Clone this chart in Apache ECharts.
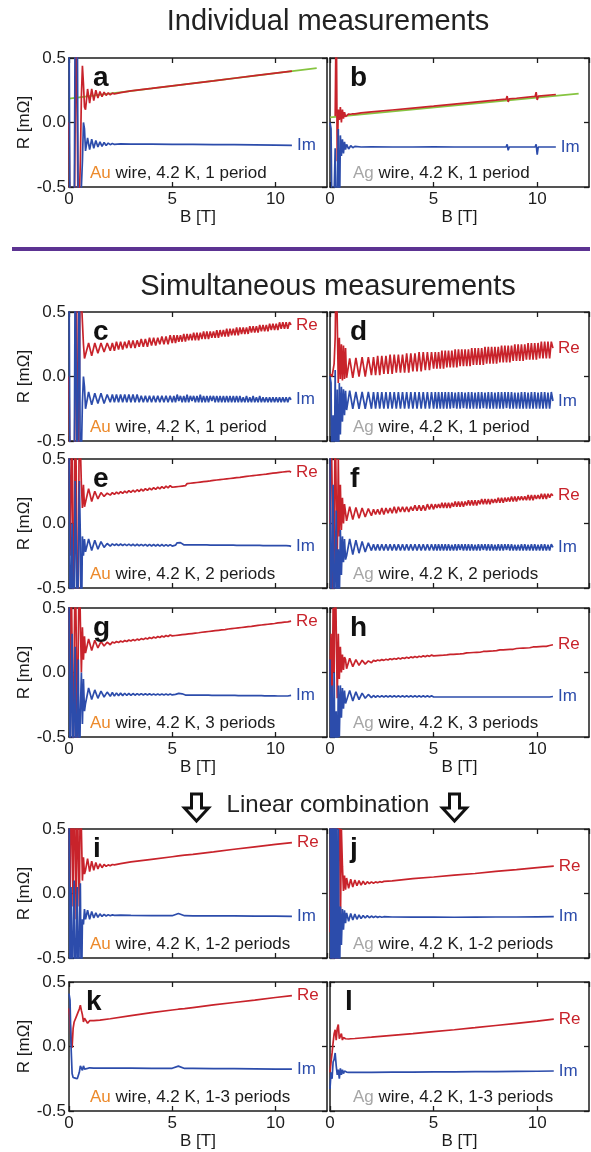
<!DOCTYPE html>
<html><head><meta charset="utf-8">
<script src="https://cdn.jsdelivr.net/npm/echarts@6/dist/echarts.min.js"></script>
<style>html,body{margin:0;padding:0;background:#fff}#chart{width:591px;height:1152px}</style>
</head><body><div id="chart"></div>
<script>
// ---------- DATA (B in T, R in mOhm) ----------
const xTicks = [0, 5, 10];
const yTicks = [-0.5, 0.0, 0.5];
const bEarly = [0, 0.05, 0.1, 0.15, 0.2, 0.25, 0.3, 0.35, 0.4, 0.45, 0.5, 0.55, 0.6, 0.65, 0.7, 0.75];
const bOsc = [0.8, 0.95, 1.1, 1.25, 1.4, 1.55, 1.7, 1.85, 2.0,
 2.1, 2.2, 2.3, 2.4, 2.5, 2.6, 2.7, 2.8, 2.9, 3.0,
 3.1, 3.2, 3.3, 3.4, 3.5, 3.6, 3.7, 3.8, 3.9, 4.0,
 4.1, 4.2, 4.3, 4.4, 4.5, 4.6, 4.7, 4.8, 4.9,
 5.0, 5.08, 5.16, 5.24, 5.32, 5.4, 5.48, 5.56, 5.64, 5.72,
 5.8, 5.88, 5.96, 6.04, 6.12, 6.2, 6.28, 6.36, 6.44, 6.52,
 6.6, 6.68, 6.76, 6.84, 6.92, 7.0, 7.08, 7.16, 7.24, 7.32,
 7.4, 7.48, 7.56, 7.64, 7.72, 7.8, 7.88, 7.96, 8.04, 8.12,
 8.2, 8.28, 8.36, 8.44, 8.52, 8.6, 8.68, 8.76, 8.84, 8.92,
 9.0, 9.08, 9.16, 9.24, 9.32, 9.4, 9.48, 9.56, 9.64, 9.72,
 9.8, 9.88, 9.96, 10.04, 10.12, 10.2, 10.28, 10.36, 10.44, 10.52,
 10.6, 10.68, 10.76];

// a : Au, individual
const aMainB = [0.8, 0.9, 1.0, 1.1, 1.2, 1.3, 1.4, 1.5, 1.6, 1.7, 1.8, 1.9, 2.0, 2.1, 2.2, 2.5, 3, 4, 5, 6, 7, 8, 9, 10, 10.8];
const aRe = [0.0, -0.9, -0.9, -0.9, -0.9, -0.9, -0.9, 0.9, 0.9, -0.9, -0.9, -0.3, 0.2, 0.44, 0.3, 0.12,
 0.10, 0.26, 0.15, 0.26, 0.17, 0.25, 0.19, 0.24, 0.20, 0.235, 0.21, 0.23, 0.215, 0.228, 0.222, 0.232, 0.245, 0.264, 0.284, 0.304, 0.323, 0.343, 0.363, 0.383, 0.398];
const aIm = [0.9, -0.9, -0.9, -0.9, -0.9, -0.9, 0.9, 0.9, 0.9, -0.9, -0.9, -0.9, -0.5, -0.3, 0.0, -0.05,
 -0.22, -0.12, -0.21, -0.13, -0.2, -0.14, -0.19, -0.15, -0.185, -0.155, -0.178, -0.16, -0.172, -0.163, -0.17, -0.165, -0.168, -0.168, -0.17, -0.17, -0.172, -0.172, -0.174, -0.176, -0.178];
const ppmsB = [0, 12.0];
const aPpms = [0.185, 0.422];

// b : Ag, individual
const bMainB = [0.8, 0.9, 1.0, 1.1, 1.2, 1.5, 2, 3, 4, 5, 6, 7, 8, 8.5, 8.55, 8.6, 8.65, 9, 9.9, 9.95, 10.0, 10.05, 10.9];
const bRe = [null, null, null, null, null, 0.05, 0.9, -0.3, 0.1, 0.02, 0.12, 0.0, 0.1, 0.03, 0.08, 0.045,
 0.06, 0.066, 0.064, 0.068, 0.067, 0.074, 0.082, 0.097, 0.112, 0.127, 0.143, 0.158, 0.173, 0.181, 0.205, 0.16, 0.183, 0.188, 0.202, 0.235, 0.175, 0.204, 0.217];
const bIm = [0.0, -0.05, -0.8, -0.9, -0.9, -0.2, -0.9, -0.6, -0.05, -0.9, -0.1, -0.26, -0.13, -0.24, -0.15, -0.21,
 -0.17, -0.205, -0.18, -0.195, -0.185, -0.19, -0.188, -0.19, -0.19, -0.188, -0.19, -0.19, -0.19, -0.19, -0.17, -0.215, -0.19, -0.19, -0.19, -0.17, -0.25, -0.19, -0.19];
const bPpms = [0.04, 0.224];

// c : Au, simultaneous, 1 period
const cRe = [0.0, -0.9, -0.9, -0.9, -0.9, -0.9, -0.9, 0.9, 0.9, -0.9, -0.9, 0.9, 0.6, 0.42, 0.25, 0.14,
 0.13, 0.26, 0.16, 0.26, 0.18, 0.26, 0.19, 0.26, 0.20,
 0.26, 0.20, 0.27, 0.21, 0.27, 0.21, 0.27, 0.22, 0.28, 0.22,
 0.28, 0.22, 0.28, 0.23, 0.29, 0.23, 0.29, 0.23, 0.30, 0.24,
 0.30, 0.24, 0.30, 0.25, 0.31, 0.25, 0.31, 0.25, 0.32,
 0.26, 0.32, 0.26, 0.32, 0.27, 0.32, 0.27, 0.33, 0.27, 0.33,
 0.28, 0.33, 0.28, 0.34, 0.28, 0.34, 0.28, 0.34, 0.29, 0.35,
 0.29, 0.35, 0.29, 0.35, 0.30, 0.35, 0.30, 0.36, 0.30, 0.36,
 0.31, 0.36, 0.31, 0.37, 0.31, 0.37, 0.32, 0.37, 0.32, 0.38,
 0.32, 0.38, 0.33, 0.38, 0.33, 0.38, 0.33, 0.39, 0.34, 0.39,
 0.34, 0.39, 0.34, 0.40, 0.35, 0.40, 0.35, 0.40, 0.35, 0.41,
 0.36, 0.41, 0.36, 0.41, 0.36, 0.42, 0.37, 0.42, 0.37, 0.42,
 0.37, 0.42, 0.40];
const cIm = [0.9, -0.9, -0.9, -0.9, -0.9, -0.9, 0.9, 0.9, -0.9, -0.9, 0.9, -0.9, -0.6, -0.2, 0.0, -0.08,
 -0.25, -0.12, -0.22, -0.13, -0.21, -0.13, -0.21, -0.14, -0.20,
 -0.14, -0.20, -0.14, -0.20, -0.14, -0.20, -0.14, -0.20, -0.14, -0.20,
 -0.14, -0.20, -0.14, -0.20, -0.15, -0.20, -0.15, -0.20, -0.15, -0.20,
 -0.15, -0.20, -0.15, -0.20, -0.15, -0.20, -0.15, -0.20, -0.15,
 -0.20, -0.15, -0.20, -0.14, -0.19, -0.15, -0.20, -0.15, -0.20, -0.14,
 -0.20, -0.15, -0.19, -0.15, -0.20, -0.15, -0.20, -0.14, -0.20, -0.15,
 -0.20, -0.15, -0.20, -0.15, -0.19, -0.15, -0.20, -0.15, -0.20, -0.15,
 -0.20, -0.15, -0.20, -0.15, -0.20, -0.15, -0.20, -0.15, -0.20, -0.15,
 -0.20, -0.15, -0.20, -0.16, -0.20, -0.15, -0.20, -0.16, -0.20, -0.15,
 -0.20, -0.16, -0.20, -0.15, -0.20, -0.16, -0.20, -0.16, -0.20, -0.16,
 -0.20, -0.16, -0.20, -0.16, -0.20, -0.16, -0.20, -0.16, -0.20, -0.16,
 -0.20, -0.16, -0.18];

// d : Ag, simultaneous, 1 period
const dRe = [0.02, 0.02, 0.0, 0.05, 0.1, 0.3, 0.9, 0.9, -0.05, 0.3, -0.02, 0.25, -0.03, 0.24, -0.02, 0.22,
 -0.01, 0.14, -0.01, 0.145, 0.0, 0.15, 0.0, 0.15, 0.01,
 0.15, 0.01, 0.16, 0.01, 0.16, 0.02, 0.16, 0.02, 0.17, 0.02,
 0.17, 0.03, 0.17, 0.03, 0.17, 0.03, 0.18, 0.03, 0.18, 0.04,
 0.18, 0.04, 0.19, 0.04, 0.19, 0.05, 0.19, 0.05, 0.19,
 0.06, 0.19, 0.06, 0.19, 0.06, 0.20, 0.06, 0.20, 0.07, 0.20,
 0.07, 0.20, 0.07, 0.21, 0.07, 0.21, 0.08, 0.21, 0.08, 0.21,
 0.08, 0.21, 0.08, 0.22, 0.09, 0.22, 0.09, 0.22, 0.09, 0.22,
 0.09, 0.23, 0.10, 0.23, 0.10, 0.23, 0.10, 0.23, 0.10, 0.23,
 0.11, 0.24, 0.11, 0.24, 0.11, 0.24, 0.11, 0.24, 0.12, 0.25,
 0.12, 0.25, 0.12, 0.25, 0.12, 0.25, 0.13, 0.26, 0.13, 0.26,
 0.13, 0.26, 0.13, 0.26, 0.14, 0.27, 0.14, 0.27, 0.14, 0.27,
 0.14, 0.27, 0.22];
const dIm = [0.0, -0.05, -0.9, -0.3, -0.9, 0.05, -0.9, -0.1, -0.9, -0.05, -0.45, -0.08, -0.35, -0.1, -0.3, -0.11,
 -0.26, -0.11, -0.25, -0.12, -0.25, -0.12, -0.25, -0.12, -0.25,
 -0.12, -0.25, -0.12, -0.25, -0.12, -0.25, -0.12, -0.25, -0.12, -0.25,
 -0.12, -0.25, -0.12, -0.25, -0.12, -0.25, -0.12, -0.25, -0.12, -0.25,
 -0.12, -0.25, -0.12, -0.25, -0.12, -0.25, -0.12, -0.25, -0.12,
 -0.25, -0.12, -0.25, -0.12, -0.25, -0.12, -0.25, -0.12, -0.25, -0.12,
 -0.25, -0.12, -0.245, -0.125, -0.25, -0.12, -0.25, -0.12, -0.245, -0.125,
 -0.25, -0.12, -0.25, -0.12, -0.25, -0.125, -0.25, -0.12, -0.25, -0.12,
 -0.245, -0.125, -0.25, -0.12, -0.25, -0.12, -0.25, -0.125, -0.25, -0.12,
 -0.25, -0.12, -0.25, -0.12, -0.245, -0.12, -0.25, -0.12, -0.25, -0.125,
 -0.25, -0.125, -0.25, -0.12, -0.25, -0.12, -0.25, -0.125, -0.25, -0.12,
 -0.25, -0.12, -0.25, -0.125, -0.25, -0.12, -0.25, -0.12, -0.25, -0.125,
 -0.25, -0.12, -0.19];

// e : Au, simultaneous, 2 periods
const eRe = [0.9, -0.25, 0.3, 0.9, -0.9, -0.2, 0.9, 0.4, -0.9, -0.5, 0.9, 0.6, 0.3, 0.12, 0.3, 0.13,
 0.14, 0.27, 0.17, 0.25, 0.19, 0.24, 0.21, 0.235, 0.22,
 0.239, 0.225, 0.243, 0.229, 0.247, 0.233, 0.251, 0.237, 0.255, 0.241,
 0.258, 0.244, 0.262, 0.248, 0.266, 0.252, 0.270, 0.256, 0.274, 0.260,
 0.278, 0.264, 0.282, 0.268, 0.286, 0.272, 0.290, 0.276, 0.294,
 0.281, 0.296, 0.284, 0.299, 0.287, 0.302, 0.290, 0.305, 0.293, 0.309,
 0.296, 0.312, 0.299, 0.315, 0.302, 0.318, 0.305, 0.321, 0.309, 0.324,
 0.312, 0.327, 0.315, 0.330, 0.318, 0.334, 0.321, 0.337, 0.324, 0.340,
 0.327, 0.343, 0.330, 0.346, 0.334, 0.349, 0.337, 0.352, 0.340, 0.355,
 0.343, 0.358, 0.346, 0.362, 0.349, 0.365, 0.352, 0.368, 0.355, 0.371,
 0.359, 0.374, 0.362, 0.377, 0.365, 0.380, 0.368, 0.383, 0.371, 0.387,
 0.374, 0.390, 0.377, 0.393, 0.380, 0.396, 0.383, 0.399, 0.387, 0.402,
 0.390, 0.405, 0.398];
const eIm = [0.9, -0.9, -0.5, 0.0, -0.9, -0.6, 0.33, -0.2, -0.9, -0.4, 0.33, -0.1, -0.9, -0.1, -0.25, -0.12,
 -0.22, -0.12, -0.21, -0.13, -0.20, -0.14, -0.185, -0.155, -0.175,
 -0.158, -0.170, -0.159, -0.171, -0.159, -0.171, -0.160, -0.172, -0.160, -0.172,
 -0.161, -0.173, -0.161, -0.173, -0.162, -0.173, -0.162, -0.174, -0.162, -0.174,
 -0.163, -0.174, -0.163, -0.175, -0.163, -0.175, -0.164, -0.175, -0.164,
 -0.175, -0.164, -0.168, -0.150, -0.152, -0.148, -0.160, -0.165, -0.176, -0.165,
 -0.176, -0.165, -0.176, -0.165, -0.176, -0.166, -0.177, -0.166, -0.177, -0.166,
 -0.177, -0.166, -0.177, -0.167, -0.178, -0.167, -0.178, -0.167, -0.178, -0.167,
 -0.178, -0.168, -0.179, -0.168, -0.179, -0.168, -0.179, -0.168, -0.179, -0.169,
 -0.180, -0.169, -0.180, -0.169, -0.180, -0.169, -0.180, -0.170, -0.181, -0.170,
 -0.181, -0.170, -0.181, -0.170, -0.181, -0.171, -0.182, -0.171, -0.182, -0.171,
 -0.182, -0.171, -0.182, -0.172, -0.183, -0.172, -0.183, -0.172, -0.183, -0.172,
 -0.183, -0.173, -0.177];

// f : Ag, simultaneous, 2 periods
const fRe = [0.0, 0.9, 0.3, -0.9, -0.2, 0.9, 0.2, -0.3, 0.5, -0.1, 0.3, -0.05, 0.2, 0.0, 0.15, 0.14,
 0.02, 0.13, 0.03, 0.125, 0.04, 0.12, 0.05, 0.115, 0.06,
 0.11, 0.07, 0.11, 0.07, 0.12, 0.07, 0.12, 0.08, 0.12, 0.08,
 0.13, 0.08, 0.13, 0.09, 0.13, 0.09, 0.13, 0.09, 0.13, 0.10,
 0.14, 0.10, 0.14, 0.10, 0.14, 0.10, 0.15, 0.11, 0.15,
 0.11, 0.15, 0.12, 0.15, 0.12, 0.16, 0.12, 0.16, 0.12, 0.16,
 0.12, 0.16, 0.13, 0.17, 0.13, 0.17, 0.13, 0.17, 0.13, 0.17,
 0.14, 0.18, 0.14, 0.18, 0.14, 0.18, 0.14, 0.18, 0.15, 0.19,
 0.15, 0.19, 0.15, 0.19, 0.15, 0.19, 0.16, 0.19, 0.16, 0.20,
 0.16, 0.20, 0.16, 0.20, 0.17, 0.20, 0.17, 0.21, 0.17, 0.21,
 0.17, 0.21, 0.18, 0.21, 0.18, 0.21, 0.18, 0.22, 0.18, 0.22,
 0.18, 0.22, 0.19, 0.22, 0.19, 0.23, 0.19, 0.23, 0.19, 0.23,
 0.20, 0.23, 0.215];
const fIm = [0.9, -0.9, -0.3, 0.3, -0.9, -0.4, 0.1, -0.9, -0.2, -0.6, -0.05, -0.4, -0.1, -0.3, -0.12, -0.28,
 -0.25, -0.12, -0.24, -0.13, -0.23, -0.14, -0.22, -0.15, -0.21,
 -0.16, -0.21, -0.16, -0.21, -0.16, -0.21, -0.16, -0.21, -0.16, -0.21,
 -0.16, -0.21, -0.16, -0.21, -0.16, -0.21, -0.16, -0.21, -0.16, -0.21,
 -0.16, -0.21, -0.16, -0.21, -0.16, -0.21, -0.16, -0.21, -0.16,
 -0.21, -0.16, -0.21, -0.16, -0.21, -0.16, -0.21, -0.16, -0.21, -0.16,
 -0.21, -0.165, -0.21, -0.16, -0.21, -0.16, -0.205, -0.16, -0.21, -0.16,
 -0.21, -0.16, -0.21, -0.16, -0.21, -0.165, -0.21, -0.16, -0.21, -0.16,
 -0.205, -0.16, -0.21, -0.16, -0.21, -0.16, -0.21, -0.165, -0.21, -0.16,
 -0.21, -0.16, -0.21, -0.16, -0.205, -0.16, -0.21, -0.16, -0.21, -0.165,
 -0.21, -0.165, -0.21, -0.16, -0.21, -0.16, -0.21, -0.165, -0.21, -0.16,
 -0.21, -0.16, -0.21, -0.165, -0.21, -0.16, -0.21, -0.16, -0.21, -0.165,
 -0.21, -0.16, -0.185];

// g : Au, simultaneous, 3 periods
const gRe = [0.9, -0.3, 0.9, 0.2, -0.9, 0.1, 0.9, 0.3, -0.6, 0.2, 0.9, 0.4, 0.0, 0.35, 0.1, 0.28,
 0.15, 0.26, 0.17, 0.25, 0.19, 0.24, 0.205, 0.235, 0.215,
 0.236, 0.228, 0.240, 0.232, 0.244, 0.236, 0.248, 0.240, 0.252, 0.244,
 0.255, 0.247, 0.259, 0.251, 0.263, 0.255, 0.267, 0.259, 0.271, 0.263,
 0.275, 0.267, 0.279, 0.271, 0.283, 0.275, 0.287, 0.279, 0.291,
 0.284, 0.293, 0.287, 0.296, 0.290, 0.299, 0.293, 0.302, 0.296, 0.306,
 0.299, 0.309, 0.302, 0.312, 0.305, 0.315, 0.308, 0.318, 0.312, 0.321,
 0.315, 0.324, 0.318, 0.327, 0.321, 0.331, 0.324, 0.334, 0.327, 0.337,
 0.330, 0.340, 0.333, 0.343, 0.337, 0.346, 0.340, 0.349, 0.343, 0.352,
 0.346, 0.355, 0.349, 0.359, 0.352, 0.362, 0.355, 0.365, 0.358, 0.368,
 0.362, 0.371, 0.365, 0.374, 0.368, 0.377, 0.371, 0.380, 0.374, 0.384,
 0.377, 0.387, 0.380, 0.390, 0.384, 0.393, 0.387, 0.396, 0.390, 0.399,
 0.393, 0.402, 0.398];
const gIm = [0.9, -0.9, -0.2, 0.3, -0.9, -0.3, 0.2, -0.9, -0.4, 0.1, -0.9, -0.3, 0.0, -0.4, -0.05, -0.3,
 -0.24, -0.12, -0.21, -0.135, -0.20, -0.145, -0.19, -0.152, -0.185,
 -0.155, -0.183, -0.158, -0.181, -0.160, -0.179, -0.161, -0.178, -0.162, -0.177,
 -0.163, -0.176, -0.164, -0.175, -0.164, -0.175, -0.165, -0.174, -0.165, -0.174,
 -0.166, -0.174, -0.166, -0.174, -0.166, -0.174, -0.166, -0.174, -0.166,
 -0.174, -0.167, -0.170, -0.160, -0.162, -0.158, -0.165, -0.168, -0.175, -0.167,
 -0.175, -0.167, -0.175, -0.168, -0.175, -0.168, -0.176, -0.168, -0.176, -0.168,
 -0.176, -0.169, -0.176, -0.169, -0.177, -0.169, -0.177, -0.169, -0.177, -0.170,
 -0.177, -0.170, -0.178, -0.170, -0.178, -0.170, -0.178, -0.171, -0.178, -0.171,
 -0.179, -0.171, -0.179, -0.171, -0.179, -0.172, -0.179, -0.172, -0.180, -0.172,
 -0.180, -0.172, -0.180, -0.173, -0.180, -0.173, -0.181, -0.173, -0.181, -0.173,
 -0.181, -0.174, -0.181, -0.174, -0.182, -0.174, -0.182, -0.174, -0.182, -0.175,
 -0.182, -0.175, -0.178];

// h : Ag, simultaneous, 3 periods
const hRe = [0.0, 0.3, -0.3, 0.5, 0.0, 0.9, 0.9, -0.2, 0.3, -0.05, 0.2, 0.0, 0.14, 0.02, 0.12, 0.10,
 0.03, 0.11, 0.045, 0.10, 0.055, 0.095, 0.065, 0.09, 0.075,
 0.094, 0.088, 0.097, 0.091, 0.100, 0.094, 0.103, 0.097, 0.106, 0.100,
 0.109, 0.102, 0.112, 0.105, 0.115, 0.108, 0.118, 0.111, 0.121, 0.114,
 0.124, 0.117, 0.126, 0.120, 0.129, 0.122, 0.132, 0.125, 0.135,
 0.129, 0.138, 0.131, 0.139, 0.133, 0.140, 0.134, 0.141, 0.136, 0.143,
 0.140, 0.149, 0.141, 0.150, 0.143, 0.151, 0.144, 0.153, 0.146, 0.154,
 0.152, 0.160, 0.153, 0.161, 0.155, 0.163, 0.156, 0.164, 0.157, 0.166,
 0.163, 0.171, 0.164, 0.172, 0.166, 0.174, 0.167, 0.175, 0.169, 0.178,
 0.175, 0.183, 0.176, 0.184, 0.178, 0.186, 0.179, 0.187, 0.180, 0.189,
 0.186, 0.194, 0.188, 0.196, 0.189, 0.197, 0.190, 0.198, 0.192, 0.201,
 0.198, 0.206, 0.199, 0.207, 0.201, 0.209, 0.202, 0.210, 0.203, 0.213,
 0.209, 0.216, 0.215];
const hIm = [0.1, -0.9, -0.1, -0.9, 0.0, -0.9, -0.3, -0.9, -0.1, -0.5, -0.1, -0.35, -0.12, -0.28, -0.14, -0.24,
 -0.23, -0.14, -0.22, -0.15, -0.21, -0.16, -0.20, -0.17, -0.195,
 -0.178, -0.192, -0.179, -0.191, -0.180, -0.190, -0.180, -0.190, -0.180, -0.190,
 -0.180, -0.190, -0.181, -0.190, -0.181, -0.190, -0.181, -0.190, -0.181, -0.190,
 -0.181, -0.190, -0.181, -0.190, -0.181, -0.190, -0.181, -0.190, -0.181,
 -0.190, -0.181, -0.190, -0.181, -0.190, -0.181, -0.190, -0.181, -0.190, -0.181,
 -0.190, -0.181, -0.190, -0.181, -0.190, -0.181, -0.190, -0.181, -0.190, -0.181,
 -0.190, -0.181, -0.190, -0.181, -0.190, -0.181, -0.190, -0.181, -0.190, -0.181,
 -0.190, -0.181, -0.190, -0.181, -0.190, -0.181, -0.190, -0.181, -0.190, -0.181,
 -0.190, -0.181, -0.190, -0.181, -0.190, -0.181, -0.190, -0.181, -0.190, -0.181,
 -0.190, -0.181, -0.190, -0.181, -0.190, -0.181, -0.190, -0.181, -0.190, -0.181,
 -0.190, -0.181, -0.190, -0.181, -0.190, -0.181, -0.190, -0.181, -0.190, -0.181,
 -0.190, -0.181, -0.186];

// i : Au, linear combination 1-2 periods
const iMainB = [0.8, 0.9, 1.0, 1.1, 1.2, 1.3, 1.4, 1.5, 1.6, 1.7, 1.8, 1.9, 2.0, 2.1, 2.2, 2.5, 3, 4, 5, 5.3, 5.6, 6, 7, 8, 9, 10, 10.8];
const iRe = [0.9, -0.22, 0.9, 0.5, -0.1, 0.9, 0.4, -0.2, 0.9, 0.3, -0.1, 0.9, 0.5, 0.1, 0.28, 0.15,
 0.18, 0.27, 0.17, 0.25, 0.18, 0.24, 0.19, 0.23, 0.20, 0.225, 0.21, 0.222, 0.215, 0.225, 0.222, 0.232, 0.245, 0.265, 0.285, 0.291, 0.297, 0.304, 0.323, 0.343, 0.362, 0.381, 0.395];
const iIm = [0.9, -0.9, 0.05, -0.9, -0.3, 0.1, -0.9, -0.4, 0.05, -0.9, -0.3, 0.08, -0.9, -0.2, -0.24, -0.12,
 -0.2, -0.13, -0.2, -0.14, -0.19, -0.15, -0.185, -0.158, -0.178, -0.162, -0.174, -0.165, -0.172, -0.166, -0.17, -0.168, -0.17, -0.172, -0.172, -0.155, -0.172, -0.173, -0.173, -0.174, -0.175, -0.176, -0.178];

// j : Ag, linear combination 1-2 periods
const jMainB = [0.8, 0.9, 1.0, 1.1, 1.2, 1.3, 1.4, 1.5, 1.6, 1.7, 1.8, 1.9, 2.0, 2.1, 2.2, 2.3, 2.4, 2.5, 2.6, 3, 4, 5, 6, 7, 8, 9, 10, 10.8];
const jRe = [-0.3, 0.9, 0.0, -0.9, 0.3, 0.9, -0.2, -0.9, 0.4, 0.9, -0.3, 0.5, 0.21, 0.02, 0.14, 0.03,
 0.12, 0.04, 0.11, 0.05, 0.105, 0.06, 0.1, 0.065, 0.095, 0.07, 0.092, 0.076, 0.09, 0.08, 0.09, 0.083, 0.092, 0.087, 0.094, 0.098, 0.115, 0.128, 0.142, 0.155, 0.172, 0.185, 0.2, 0.212];
const jIm = [0.9, -0.9, 0.9, -0.9, 0.9, -0.9, 0.9, -0.9, 0.5, -0.9, -0.1, -0.4, -0.12, -0.28, -0.13, -0.23,
 -0.15, -0.215, -0.155, -0.205, -0.16, -0.2, -0.165, -0.195, -0.17, -0.19, -0.172, -0.188, -0.175, -0.186, -0.177, -0.185, -0.178, -0.184, -0.18, -0.182, -0.183, -0.182, -0.184, -0.183, -0.182, -0.182, -0.181, -0.18];

// k : Au, linear combination 1-3 periods
const kMainB = [0.8, 0.9, 1.0, 1.2, 1.5, 2, 3, 4, 5, 5.3, 5.6, 6, 7, 8, 9, 10, 10.8];
const kRe = [0.295, 0.2, 0.05, -0.01, 0.14, 0.19, 0.2, 0.23, 0.24, 0.27, 0.29, 0.32, 0.28, 0.245, 0.19, 0.22,
 0.23, 0.18, 0.2, 0.2, 0.205, 0.215, 0.24, 0.262, 0.283, 0.289, 0.294, 0.302, 0.322, 0.341, 0.36, 0.38, 0.395];
const kIm = [0.41, 0.36, 0.0, -0.21, -0.24, -0.23, -0.245, -0.23, -0.25, -0.24, -0.2, -0.15, -0.16, -0.185, -0.15, -0.175,
 -0.16, -0.17, -0.165, -0.168, -0.168, -0.168, -0.168, -0.169, -0.169, -0.152, -0.17, -0.17, -0.171, -0.172, -0.173, -0.175, -0.176];

// l : Ag, linear combination 1-3 periods
const lMainB = [0.8, 0.9, 1.0, 1.2, 1.5, 2, 3, 4, 5, 6, 7, 8, 9, 10, 10.8];
const lRe = [-0.2, -0.12, -0.05, 0.03, 0.1, 0.13, 0.05, 0.14, 0.17, 0.06, 0.08, 0.1, 0.05, 0.07, 0.08, 0.06,
 0.065, 0.058, 0.06, 0.062, 0.066, 0.072, 0.086, 0.1, 0.115, 0.13, 0.146, 0.163, 0.18, 0.197, 0.212];
const lIm = [-0.33, -0.2, -0.25, -0.12, -0.1, -0.05, -0.15, -0.22, -0.18, -0.25, -0.17, -0.22, -0.18, -0.21, -0.19, -0.2,
 -0.198, -0.2, -0.2, -0.2, -0.2, -0.2, -0.199, -0.198, -0.197, -0.196, -0.195, -0.194, -0.193, -0.192, -0.19];

// in-plot label anchors (data coordinates) for panels a and b
const reLabelAt = { a: [7.97, 0.226], b: [7.92, 0.037] };
const ppmsLabelAt = { a: [10.77, 0.25], b: [10.82, 0.313] };

// ---------- STYLE / LAYOUT ----------
const FONT = '"Liberation Sans", Arial, Helvetica, sans-serif';
const RED = '#c8232b', BLUE = '#2c4cab', GREEN = '#86c440', ORANGE = '#ec8a2c', GRAY = '#a6a6a6', INK = '#1c1c1c';
const PH = 129;
const colLeft = [69, 330], colWidth = [258, 259];
const oscB = bEarly.concat(bOsc);

const panels = [
  {id:'a', col:0, top:58,  B:bEarly.concat(aMainB), re:aRe, im:aIm, ppms:aPpms, metal:'Au', note:' wire, 4.2 K, 1 period', xLab:true},
  {id:'b', col:1, top:58,  B:bEarly.concat(bMainB), re:bRe, im:bIm, ppms:bPpms, metal:'Ag', note:' wire, 4.2 K, 1 period', xLab:true},
  {id:'c', col:0, top:312, B:oscB, re:cRe, im:cIm, metal:'Au', note:' wire, 4.2 K, 1 period'},
  {id:'d', col:1, top:312, B:oscB, re:dRe, im:dIm, metal:'Ag', note:' wire, 4.2 K, 1 period'},
  {id:'e', col:0, top:459, B:oscB, re:eRe, im:eIm, metal:'Au', note:' wire, 4.2 K, 2 periods'},
  {id:'f', col:1, top:459, B:oscB, re:fRe, im:fIm, metal:'Ag', note:' wire, 4.2 K, 2 periods'},
  {id:'g', col:0, top:608, B:oscB, re:gRe, im:gIm, metal:'Au', note:' wire, 4.2 K, 3 periods', xLab:true},
  {id:'h', col:1, top:608, B:oscB, re:hRe, im:hIm, metal:'Ag', note:' wire, 4.2 K, 3 periods', xLab:true},
  {id:'i', col:0, top:829, B:bEarly.concat(iMainB), re:iRe, im:iIm, metal:'Au', note:' wire, 4.2 K, 1-2 periods'},
  {id:'j', col:1, top:829, B:bEarly.concat(jMainB), re:jRe, im:jIm, metal:'Ag', note:' wire, 4.2 K, 1-2 periods'},
  {id:'k', col:0, top:982, B:bEarly.concat(kMainB), re:kRe, im:kIm, metal:'Au', note:' wire, 4.2 K, 1-3 periods', xLab:true, letterDx:17},
  {id:'l', col:1, top:982, B:bEarly.concat(lMainB), re:lRe, im:lIm, metal:'Ag', note:' wire, 4.2 K, 1-3 periods', xLab:true, letterDx:15}
];

function zip(xs, ys) {
  const out = [];
  for (let i = 0; i < xs.length; i++) out.push([xs[i], ys[i] === undefined ? null : ys[i]]);
  return out;
}

const grids = [], xAxes = [], yAxes = [], series = [], graphics = [];
const txt = (extra) => Object.assign({color: INK, fontFamily: FONT, fontSize: 17}, extra || {});

panels.forEach((p, k) => {
  const left = colLeft[p.col], width = colWidth[p.col];
  grids.push({left: left, top: p.top, width: width, height: PH, outerBoundsMode: 'none'});
  const axLine = {show: true, onZero: false, lineStyle: {color: INK, width: 1.5}};
  const tick = {show: true, inside: true, length: 5, lineStyle: {color: INK, width: 1.3}};
  xAxes.push({gridIndex: k, type: 'value', position: 'bottom', min: 0, max: 12.5, interval: xTicks[1] - xTicks[0],
    axisLine: axLine, axisTick: tick, splitLine: {show: false},
    axisLabel: Object.assign(txt(), {show: !!p.xLab, margin: 4, showMaxLabel: false}),
    name: p.xLab ? 'B [T]' : '', nameLocation: 'middle', nameGap: 21, nameTextStyle: txt()});
  xAxes.push({gridIndex: k, type: 'value', position: 'top', min: 0, max: 12.5, interval: xTicks[1] - xTicks[0],
    axisLine: axLine, axisTick: tick, splitLine: {show: false}, axisLabel: {show: false}});
  yAxes.push({gridIndex: k, type: 'value', position: 'left', min: yTicks[0], max: yTicks[2], interval: yTicks[1] - yTicks[0],
    axisLine: axLine, axisTick: tick, splitLine: {show: false},
    axisLabel: Object.assign(txt(), {show: p.col === 0, margin: 3, formatter: v => v.toFixed(1)}),
    name: p.col === 0 ? 'R [mΩ]' : '', nameLocation: 'middle', nameGap: 30, nameTextStyle: txt()});
  yAxes.push({gridIndex: k, type: 'value', position: 'right', min: yTicks[0], max: yTicks[2], interval: yTicks[1] - yTicks[0],
    axisLine: axLine, axisTick: tick, splitLine: {show: false}, axisLabel: {show: false}});

  const base = {type: 'line', xAxisIndex: 2 * k, yAxisIndex: 2 * k, showSymbol: false, symbol: 'none',
    clip: true, silent: true, animation: false, connectNulls: false};
  if (p.ppms) {
    series.push(Object.assign({}, base, {name: p.id + '-ppms', data: zip(ppmsB, p.ppms),
      lineStyle: {color: GREEN, width: 1.8}, itemStyle: {color: GREEN}, z: 1}));
  }
  const inPlot = (p.id === 'a' || p.id === 'b');
  series.push(Object.assign({}, base, {name: p.id + '-Re', data: zip(p.B, p.re),
    lineStyle: {color: RED, width: 1.7}, itemStyle: {color: RED}, z: 2,
    endLabel: inPlot ? {show: false} : {show: true, formatter: 'Re', color: RED, fontFamily: FONT, fontSize: 17, distance: 5}}));
  series.push(Object.assign({}, base, {name: p.id + '-Im', data: zip(p.B, p.im),
    lineStyle: {color: BLUE, width: 1.7}, itemStyle: {color: BLUE}, z: 3,
    endLabel: {show: true, formatter: 'Im', color: BLUE, fontFamily: FONT, fontSize: 17, distance: 5}}));
  if (inPlot) {
    const lab = (pt, text, color) => ({type: 'scatter', xAxisIndex: 2 * k, yAxisIndex: 2 * k, silent: true, animation: false,
      symbolSize: 1, itemStyle: {opacity: 0}, data: [pt], z: 5,
      label: {show: true, position: 'inside', formatter: text, color: color, fontFamily: FONT, fontSize: 17}});
    series.push(lab(reLabelAt[p.id], 'Re', RED));
    series.push(lab(ppmsLabelAt[p.id], 'PPMS', GREEN));
  }

  // panel letter
  const dx = p.letterDx !== undefined ? p.letterDx : (p.col === 0 ? 24 : 20);
  graphics.push({type: 'text', x: left + dx, y: p.top + 20, z: 10,
    style: {text: p.id, fill: '#111', fontFamily: FONT, fontSize: 28, fontWeight: 'bold', align: 'left', verticalAlign: 'middle'}});
  // annotation
  graphics.push({type: 'text', x: left + (p.col === 0 ? 21 : 23), y: p.top + PH - 14, z: 10,
    style: {text: '{m|' + p.metal + '}' + p.note, fill: INK, fontFamily: FONT, fontSize: 17, align: 'left', verticalAlign: 'middle',
      rich: {m: {fill: p.metal === 'Au' ? ORANGE : GRAY, fontFamily: FONT, fontSize: 17}}}});
});

// headings, separator, arrows
const heading = (text, y, size) => ({type: 'text', x: 328, y: y, z: 10,
  style: {text: text, fill: '#222', fontFamily: FONT, fontSize: size, align: 'center', verticalAlign: 'middle'}});
graphics.push(heading('Individual measurements', 22, 29));
graphics.push(heading('Simultaneous measurements', 287, 29));
graphics.push(heading('Linear combination', 805, 24));
graphics.push({type: 'line', z: 10, shape: {x1: 12, y1: 249, x2: 590, y2: 249}, style: {stroke: '#5c3392', lineWidth: 4}});
const arrow = (cx) => ({type: 'polygon', z: 10, shape: {points: [
  [cx - 5, 794], [cx + 5, 794], [cx + 5, 808], [cx + 12, 808], [cx, 821], [cx - 12, 808], [cx - 5, 808]]},
  style: {fill: '#fff', stroke: '#111', lineWidth: 3, lineJoin: 'miter'}});
graphics.push(arrow(196.5));
graphics.push(arrow(454.5));

const chart = echarts.init(document.getElementById('chart'), null, {renderer: 'canvas'});
chart.setOption({
  animation: false,
  backgroundColor: '#ffffff',
  grid: grids, xAxis: xAxes, yAxis: yAxes, series: series, graphic: graphics
});
</script></body></html>
